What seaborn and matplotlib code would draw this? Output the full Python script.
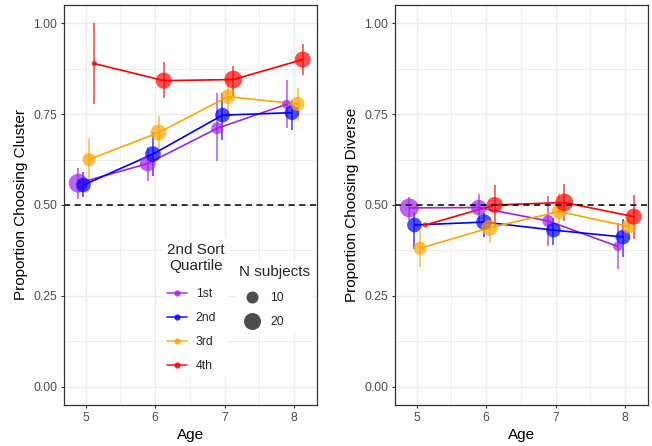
import numpy as np
import pandas as pd
import matplotlib
matplotlib.use("Agg")
import matplotlib.pyplot as plt
import seaborn as sns
from matplotlib.lines import Line2D
from matplotlib.ticker import MultipleLocator

# ---------------- data ----------------
ages = [5, 6, 7, 8]
quartiles = ["1st", "2nd", "3rd", "4th"]
palette = ["#A020F0", "#0000FF", "#FFA500", "#FF0000"]
dodge = [-0.105, -0.03, 0.05, 0.125]

n_subjects = {
    "1st": [25, 17, 10, 6],
    "2nd": [15, 17, 15, 15],
    "3rd": [12, 18, 15, 14],
    "4th": [2, 18, 22, 18],
}

cluster_mean = {
    "1st": [0.560, 0.614, 0.711, 0.777],
    "2nd": [0.555, 0.640, 0.747, 0.754],
    "3rd": [0.625, 0.699, 0.798, 0.778],
    "4th": [0.889, 0.842, 0.845, 0.900],
}
cluster_lo = {
    "1st": [0.516, 0.567, 0.621, 0.711],
    "2nd": [0.521, 0.581, 0.680, 0.706],
    "3rd": [0.569, 0.651, 0.750, 0.730],
    "4th": [0.777, 0.793, 0.800, 0.857],
}
cluster_hi = {
    "1st": [0.603, 0.660, 0.808, 0.843],
    "2nd": [0.590, 0.700, 0.808, 0.790],
    "3rd": [0.685, 0.745, 0.851, 0.822],
    "4th": [1.000, 0.892, 0.882, 0.944],
}

diverse_mean = {
    "1st": [0.492, 0.493, 0.456, 0.386],
    "2nd": [0.445, 0.453, 0.431, 0.412],
    "3rd": [0.381, 0.437, 0.482, 0.441],
    "4th": [0.445, 0.500, 0.507, 0.468],
}
diverse_lo = {
    "1st": [0.460, 0.455, 0.387, 0.323],
    "2nd": [0.378, 0.411, 0.391, 0.357],
    "3rd": [0.330, 0.396, 0.431, 0.404],
    "4th": [0.445, 0.438, 0.456, 0.406],
}
diverse_hi = {
    "1st": [0.522, 0.531, 0.524, 0.450],
    "2nd": [0.480, 0.478, 0.464, 0.461],
    "3rd": [0.429, 0.468, 0.532, 0.479],
    "4th": [0.445, 0.555, 0.558, 0.527],
}

# ---------------- build table ----------------
rows = []
for qi, q in enumerate(quartiles):
    for ai, a in enumerate(ages):
        rows.append(dict(
            quartile=q, age=a, x=a + dodge[qi], n=n_subjects[q][ai],
            cluster=cluster_mean[q][ai], cluster_lo=cluster_lo[q][ai], cluster_hi=cluster_hi[q][ai],
            diverse=diverse_mean[q][ai], diverse_lo=diverse_lo[q][ai], diverse_hi=diverse_hi[q][ai],
        ))
df = pd.DataFrame(rows)

# ---------------- style ----------------
sns.set_theme(style="white")
plt.rcParams["font.family"] = ["Liberation Sans", "DejaVu Sans"]
plt.rcParams["axes.edgecolor"] = "#333333"

W, H = 652, 446
fig = plt.figure(figsize=(W / 100, H / 100), dpi=100)
ax1 = fig.add_axes([64 / W, 41 / H, 253 / W, 400 / H])
ax2 = fig.add_axes([395 / W, 41 / H, 253 / W, 400 / H])

pal = dict(zip(quartiles, palette))

def draw(ax, col, ylabel):
    # error bars
    for q in quartiles:
        sub = df[df.quartile == q]
        ax.vlines(sub["x"], sub[col + "_lo"], sub[col + "_hi"], colors=pal[q],
                  alpha=0.7, lw=1.2, zorder=3)
    sns.lineplot(data=df, x="x", y=col, hue="quartile", palette=pal, hue_order=quartiles,
                 estimator=None, sort=True, lw=1.2, legend=False, ax=ax, zorder=4)
    sns.scatterplot(data=df, x="x", y=col, hue="quartile", palette=pal, hue_order=quartiles,
                    size="n", sizes=(0, 224), size_norm=(0, 30), alpha=0.7,
                    linewidth=0, legend=False, ax=ax, zorder=5)
    ax.axhline(0.5, color="black", lw=1.1, ls=(0, (4, 3)), zorder=6)
    ax.set_xlim(4.69, 8.33)
    ax.set_ylim(-0.05, 1.05)
    ax.set_xticks(ages)
    ax.set_xticklabels([str(a) for a in ages])
    ax.set_yticks([0, 0.25, 0.5, 0.75, 1.0])
    ax.set_yticklabels(["0.00", "0.25", "0.50", "0.75", "1.00"])
    ax.xaxis.set_minor_locator(MultipleLocator(0.5))
    ax.yaxis.set_minor_locator(MultipleLocator(0.125))
    ax.grid(True, which="major", color="#EBEBEB", lw=1.0, zorder=0)
    ax.grid(True, which="minor", color="#EBEBEB", lw=0.6, zorder=0)
    ax.set_axisbelow(True)
    ax.tick_params(axis="both", which="major", length=2.5, width=0.8, color="#333333",
                   labelcolor="#4D4D4D", labelsize=8.8, pad=2.2, bottom=True, left=True)
    ax.tick_params(axis="both", which="minor", length=0)
    for s in ax.spines.values():
        s.set_color("#333333")
        s.set_linewidth(0.9)
        s.set_zorder(7)
    ax.set_xlabel("Age", fontsize=11, color="black", labelpad=3)
    ax.set_ylabel(ylabel, fontsize=11, color="black", labelpad=4)

draw(ax1, "cluster", "Proportion Choosing Cluster")
draw(ax2, "diverse", "Proportion Choosing Diverse")

# ---------------- legends ----------------
h1 = [Line2D([], [], color=pal[q], lw=1.2, marker="o", markersize=4.5,
             markerfacecolor=pal[q], markeredgewidth=0, alpha=0.85) for q in quartiles]
leg1 = ax1.legend(h1, quartiles, title="2nd Sort\nQuartile", loc="upper left",
                  bbox_to_anchor=(157 / W, 1 - 233 / H), bbox_transform=fig.transFigure,
                  fontsize=8.8, title_fontsize=11, frameon=True, facecolor="white",
                  edgecolor="none", framealpha=1, fancybox=False, borderpad=0.3,
                  handlelength=1.64, handletextpad=0.74, labelspacing=0.99, alignment="left")
leg1.get_title().set_multialignment("center")
leg1.set_zorder(6.5)
try:
    leg1._legend_box.sep += 2.2
except Exception:
    pass
ax1.add_artist(leg1)

sizes_leg = [10, 20]
h2 = [Line2D([], [], ls="none", marker="o", markersize=np.sqrt(224 * n / 30),
             color="black", alpha=0.7, markeredgewidth=0) for n in sizes_leg]
leg2 = ax1.legend(h2, [str(n) for n in sizes_leg], title="N subjects", loc="upper left",
                  bbox_to_anchor=(229 / W, 1 - 255 / H), bbox_transform=fig.transFigure,
                  fontsize=8.8, title_fontsize=11, frameon=True, facecolor="white",
                  edgecolor="none", framealpha=1, fancybox=False, borderpad=0.3,
                  handlelength=2.1, handletextpad=0.49, labelspacing=0.97, alignment="left")
leg2.set_zorder(6.5)
try:
    leg2._legend_box.sep += 1.2
except Exception:
    pass

fig.savefig("out.png", dpi=100)
